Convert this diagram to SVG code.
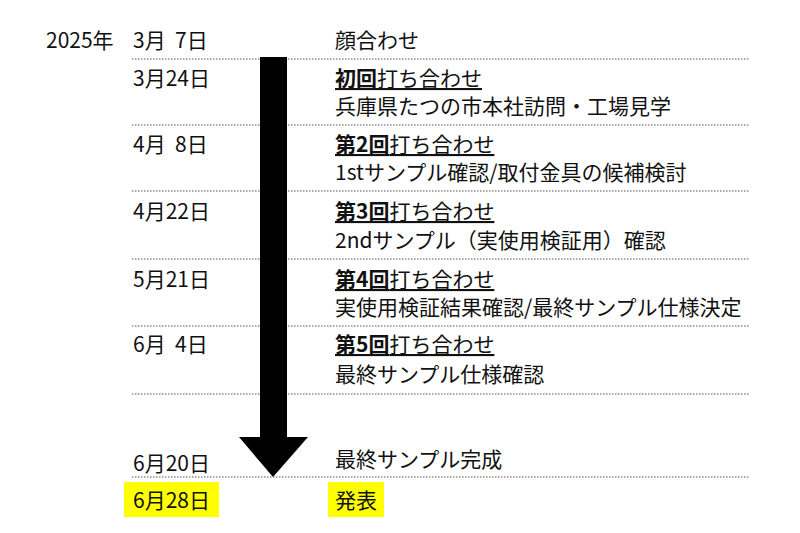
<svg xmlns="http://www.w3.org/2000/svg" width="800" height="533" viewBox="0 0 800 533">
<style>
text{font-family:"Noto Sans CJK JP","Noto Sans",sans-serif;font-size:21px;fill:#111}
.b{font-weight:bold;text-decoration:underline}
.l{stroke:#555;stroke-width:1.2;stroke-dasharray:1.5 1.5}
</style>
<rect width="800" height="533" fill="#fff"/>
<g id="lines">
<line class="l" x1="132" y1="59" x2="750" y2="59"/>
<line class="l" x1="132" y1="125" x2="750" y2="125"/>
<line class="l" x1="132" y1="191" x2="750" y2="191"/>
<line class="l" x1="132" y1="259" x2="750" y2="259"/>
<line class="l" x1="132" y1="326" x2="750" y2="326"/>
<line class="l" x1="132" y1="394" x2="750" y2="394"/>
<line class="l" x1="132" y1="477" x2="750" y2="477"/>
</g>
<g id="connectors">
<polygon points="260,57 287,57 287,437 308,437 273,477 239,437 260,437" fill="#000"/>
</g>
<g id="highlights">
<rect x="124" y="482" width="95" height="35" fill="#ffff00"/>
<rect x="328" y="482" width="56" height="35" fill="#ffff00"/>
</g>
<g id="dates">
<text x="46" y="48">2025年</text>
<text x="133" y="48" xml:space="preserve">3月  7日</text>
<text x="133" y="86">3月24日</text>
<text x="133" y="152" xml:space="preserve">4月  8日</text>
<text x="133" y="219">4月22日</text>
<text x="133" y="287">5月21日</text>
<text x="133" y="352" xml:space="preserve">6月  4日</text>
<text x="133" y="471">6月20日</text>
<text x="133" y="508">6月28日</text>
</g>
<g id="events">
<text x="335" y="48">顔合わせ</text>
<text x="335" y="86"><tspan class="b">初回</tspan><tspan text-decoration="underline">打ち合わせ</tspan></text>
<text x="335" y="114">兵庫県たつの市本社訪問・工場見学</text>
<text x="335" y="152"><tspan class="b">第2回</tspan><tspan text-decoration="underline">打ち合わせ</tspan></text>
<text x="335" y="180">1stサンプル確認/取付金具の候補検討</text>
<text x="335" y="219"><tspan class="b">第3回</tspan><tspan text-decoration="underline">打ち合わせ</tspan></text>
<text x="335" y="248">2ndサンプル（実使用検証用）確認</text>
<text x="335" y="287"><tspan class="b">第4回</tspan><tspan text-decoration="underline">打ち合わせ</tspan></text>
<text x="335" y="315">実使用検証結果確認/最終サンプル仕様決定</text>
<text x="335" y="352"><tspan class="b">第5回</tspan><tspan text-decoration="underline">打ち合わせ</tspan></text>
<text x="335" y="382">最終サンプル仕様確認</text>
<text x="335" y="467">最終サンプル完成</text>
<text x="335" y="508">発表</text>
</g>
</svg>
